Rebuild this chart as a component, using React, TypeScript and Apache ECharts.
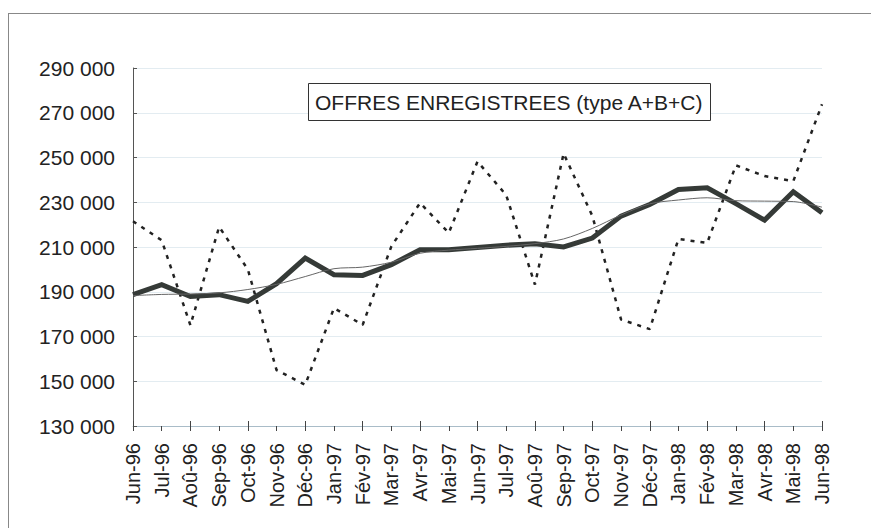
import React, { useEffect, useRef } from "react";
import * as echarts from "echarts";

const categories = [
  "Jun-96", "Jul-96", "Aoû-96", "Sep-96", "Oct-96", "Nov-96", "Déc-96",
  "Jan-97", "Fév-97", "Mar-97", "Avr-97", "Mai-97", "Jun-97", "Jul-97",
  "Aoû-97", "Sep-97", "Oct-97", "Nov-97", "Déc-97", "Jan-98", "Fév-98",
  "Mar-98", "Avr-98", "Mai-98", "Jun-98",
];

// Raw series (dashed)
const rawValues = [
  221500, 213000, 175000, 219000, 200000, 155000, 148400, 182700, 175200,
  210300, 229700, 216300, 248200, 233200, 193200, 251800, 223900, 177600,
  173300, 213600, 211800, 246500, 241700, 239400, 273800,
];

// Seasonally adjusted series (thick)
const adjustedValues = [
  188700, 193200, 187900, 188700, 185700, 193600, 205000, 197600, 197300,
  202100, 208800, 208800, 209800, 210800, 211400, 210000, 214000, 223800,
  229000, 235700, 236500, 229400, 222000, 234700, 225300,
];

// Trend series (thin)
const trendValues = [
  188300, 188800, 189000, 189500, 191000, 193300, 196800, 200300, 201000,
  203200, 207200, 208600, 209400, 210300, 211500, 213600, 218300, 224300,
  229300, 231000, 232000, 230700, 230500, 230300, 227800,
];

const titleText = "OFFRES ENREGISTREES (type A+B+C)";
const yMin = 130000;
const yMax = 290000;
const yStep = 20000;

const fmt = (v: number) => {
  const s = String(Math.round(v));
  return s.replace(/\B(?=(\d{3})+(?!\d))/g, " ");
};

export default function App() {
  const ref = useRef<HTMLDivElement>(null);
  useEffect(() => {
    if (!ref.current) return;
    const chart = echarts.init(ref.current, undefined, { renderer: "svg" });
    const font = "'Liberation Sans', Arial, sans-serif";
    chart.setOption({
      animation: false,
      title: {
        text: titleText,
        left: 308,
        top: 83,
        padding: [9, 7, 8, 7],
        borderColor: "#333",
        borderWidth: 1,
        backgroundColor: "#ffffff",
        textStyle: {
          fontFamily: font,
          fontSize: 21,
          fontWeight: "normal",
          color: "#222",
        },
      },
      grid: { left: 133, right: 49, top: 68, bottom: 102, containLabel: false },
      xAxis: [
        {
          type: "category",
          data: categories,
          boundaryGap: false,
          axisLine: { lineStyle: { color: "#a9bcc8", width: 1 } },
          axisTick: { show: true, inside: false, length: 5, lineStyle: { color: "#444" } },
          axisLabel: {
            rotate: 90,
            interval: 0,
            margin: 17,
            fontFamily: font,
            fontSize: 20,
            color: "#222",
          },
          splitLine: { show: false },
        },
        {
          type: "category",
          data: categories,
          boundaryGap: false,
          position: "bottom",
          axisLine: { show: false },
          axisTick: { show: true, inside: true, length: 5, lineStyle: { color: "#444" } },
          axisLabel: { show: false },
          splitLine: { show: false },
        },
      ],
      yAxis: {
        type: "value",
        min: yMin,
        max: yMax,
        interval: yStep,
        axisLine: { show: true, lineStyle: { color: "#555", width: 1 } },
        axisTick: { show: true, inside: true, length: 4, lineStyle: { color: "#555" } },
        axisLabel: {
          formatter: (v: number) => fmt(v),
          margin: 18,
          fontFamily: font,
          fontSize: 21,
          color: "#222",
        },
        splitLine: { show: true, lineStyle: { color: "#e3ecf1", width: 1 } },
      },
      series: [
        {
          name: "Brut",
          type: "line",
          data: rawValues,
          symbol: "none",
          lineStyle: { color: "#222", width: 2.5, type: [4, 6] },
          z: 2,
        },
        {
          name: "CVS",
          type: "line",
          data: adjustedValues,
          symbol: "none",
          lineStyle: { color: "#353a37", width: 5, join: "miter" },
          z: 3,
        },
        {
          name: "Tendance",
          type: "line",
          data: trendValues,
          symbol: "none",
          smooth: 0.3,
          lineStyle: { color: "#666", width: 1 },
          z: 4,
        },
      ],
    });
    return () => chart.dispose();
  }, []);
  return (
    <div
      style={{
        position: "fixed",
        left: 0,
        top: 0,
        width: 871,
        height: 528,
        overflow: "hidden",
        background: "#ffffff",
      }}
    >
      <div
        style={{
          position: "absolute",
          left: 8,
          top: 13,
          width: 1000,
          height: 700,
          borderTop: "1.5px solid #888",
          borderLeft: "1.5px solid #888",
        }}
      />
      <div
        ref={ref}
        style={{ position: "absolute", left: 0, top: 0, width: 871, height: 528 }}
      />
    </div>
  );
}
